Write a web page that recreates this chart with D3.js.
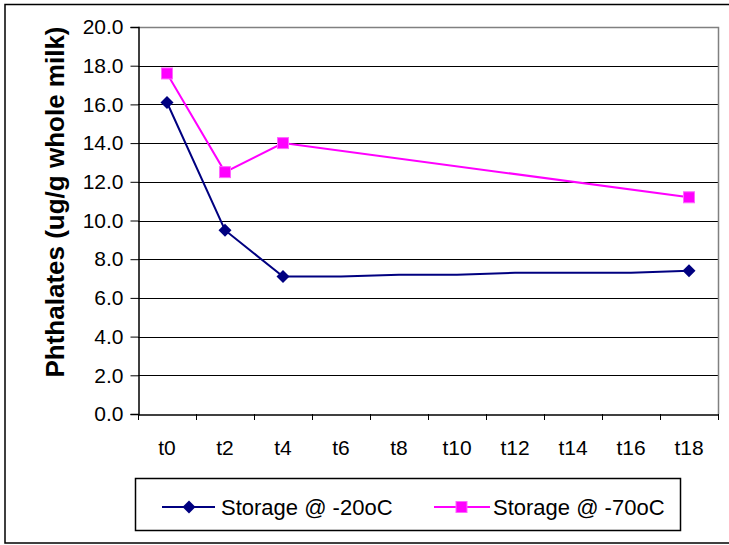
<!DOCTYPE html>
<html><head><meta charset="utf-8">
<script src="https://cdn.jsdelivr.net/npm/d3@7"></script>
<style>body{margin:0;background:#fff}svg{display:block}text{font-family:"Liberation Sans",Arial,sans-serif}</style>
</head><body>
<svg id="c" width="729" height="545"></svg>
<script>
const categories = ["t0","t2","t4","t6","t8","t10","t12","t14","t16","t18"];
const yTicks = [0,2,4,6,8,10,12,14,16,18,20];
const series20 = [16.1, 9.5, 7.1, 7.1, 7.2, 7.2, 7.3, 7.3, 7.3, 7.4];
const markers20 = [true, true, true, false, false, false, false, false, false, true];
const series70 = [17.6, 12.5, 14.0, null, null, null, null, null, null, 11.2];
const seriesNames = ["Storage @ -20oC", "Storage @ -70oC"];
const colors = ["#000080", "#FF00FF"];

const svg = d3.select("#c");
const m = {left:138, right:718, top:27, bottom:414};
const FS = 21;

svg.append("rect").attr("x",5).attr("y",4.5).attr("width",740).attr("height",538.5)
  .attr("fill","none").attr("stroke","#000").attr("stroke-width",1.5);

const x = d3.scaleBand().domain(categories).range([m.left, m.right]);
const y = d3.scaleLinear().domain([0,20]).range([m.bottom, m.top]);

// gridlines
svg.append("g").selectAll("line").data(yTicks.filter(d=>d>0 && d<20)).join("line")
  .attr("x1",m.left).attr("x2",m.right).attr("y1",d=>Math.round(y(d))+0.5).attr("y2",d=>Math.round(y(d))+0.5)
  .attr("stroke","#000").attr("stroke-width",1);
// plot border top/right (gray)
svg.append("path").attr("d",`M${m.left},${m.top+0.5}H${m.right+0.5}V${m.bottom}`)
  .attr("fill","none").attr("stroke","#808080").attr("stroke-width",1.5);

// y axis
const yAxis = d3.axisLeft(y).tickValues(yTicks).tickFormat(d3.format(".1f")).tickSize(8).tickPadding(7);
const gy = svg.append("g").attr("transform",`translate(${m.left+0.5},0)`).call(yAxis);
gy.select(".domain").attr("stroke","#000").attr("stroke-width",1.5);
gy.selectAll(".tick line").attr("stroke","#000");
gy.selectAll("text").attr("font-size",FS).attr("fill","#000");

// x axis
const xAxis = d3.axisBottom(x).tickSize(0).tickPadding(26);
const gx = svg.append("g").attr("transform",`translate(0,${m.bottom+0.5})`).call(xAxis);
gx.select(".domain").attr("stroke","#000").attr("stroke-width",1.5);
gx.selectAll("text").attr("font-size",FS).attr("fill","#000");
// x ticks at band boundaries
const bounds = categories.map(c=>x(c)).concat([x(categories[categories.length-1])+x.bandwidth()]);
svg.append("g").selectAll("line").data(bounds).join("line")
  .attr("x1",d=>d+0.5).attr("x2",d=>d+0.5).attr("y1",m.bottom).attr("y2",m.bottom+6)
  .attr("stroke","#000").attr("stroke-width",1);

// y title
svg.append("text").attr("transform","translate(64,202) rotate(-90)")
  .attr("text-anchor","middle").attr("font-size",26).attr("font-weight","bold")
  .text("Phthalates (ug/g whole milk)");

const cx = c => x(c) + x.bandwidth()/2;
const line = d3.line().defined(d=>d.v!=null).x(d=>cx(d.c)).y(d=>y(d.v));

const d20 = categories.map((c,i)=>({c, v:series20[i], mk:markers20[i]}));
const d70 = categories.map((c,i)=>({c, v:series70[i]})).filter(d=>d.v!=null);

svg.append("path").datum(d20).attr("d",line).attr("fill","none").attr("stroke",colors[0]).attr("stroke-width",2);
svg.append("path").datum(d70).attr("d",line).attr("fill","none").attr("stroke",colors[1]).attr("stroke-width",2);

const diamond = (px,py,s) => `M${px},${py-s}L${px+s},${py}L${px},${py+s}L${px-s},${py}Z`;
svg.append("g").selectAll("path").data(d20.filter(d=>d.mk)).join("path")
  .attr("d",d=>diamond(cx(d.c), y(d.v), 6.5)).attr("fill",colors[0]);
svg.append("g").selectAll("rect").data(d70).join("rect")
  .attr("x",d=>cx(d.c)-5.5).attr("y",d=>y(d.v)-5.5).attr("width",11).attr("height",11)
  .attr("fill",colors[1]).attr("stroke","#ff66ff").attr("stroke-width",1);

// legend
const lg = svg.append("g");
lg.append("rect").attr("x",135.5).attr("y",478.5).attr("width",545).attr("height",52)
  .attr("fill","#fff").attr("stroke","#000").attr("stroke-width",1.5);
const ly = 507;
lg.append("line").attr("x1",162).attr("x2",215).attr("y1",ly).attr("y2",ly).attr("stroke",colors[0]).attr("stroke-width",2);
lg.append("path").attr("d",diamond(189,ly,6.5)).attr("fill",colors[0]);
lg.append("text").attr("x",221).attr("y",515).attr("font-size",22).text(seriesNames[0]);
lg.append("line").attr("x1",434).attr("x2",490).attr("y1",ly).attr("y2",ly).attr("stroke",colors[1]).attr("stroke-width",2);
lg.append("rect").attr("x",456).attr("y",ly-5.5).attr("width",11).attr("height",11).attr("fill",colors[1]).attr("stroke","#ff66ff");
lg.append("text").attr("x",493).attr("y",515).attr("font-size",22).text(seriesNames[1]);
</script>
</body></html>
